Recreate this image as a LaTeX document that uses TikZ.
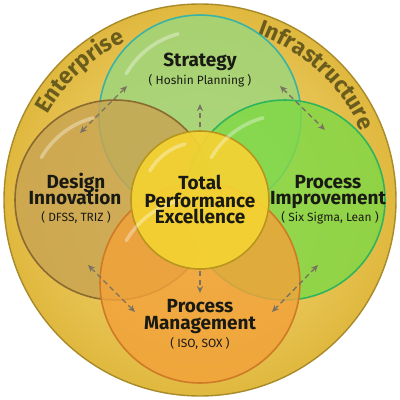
\documentclass[tikz,border=0pt]{standalone}
\usepackage{fontspec}
\setmainfont{Fira Sans}
\usetikzlibrary{decorations.text,arrows.meta}
\definecolor{ringin}{HTML}{F6E18A}
\definecolor{ringout}{HTML}{E0B83E}
\definecolor{ringedge}{HTML}{A88A2A}
\definecolor{stratfill}{HTML}{9CD67C}
\definecolor{stratedge}{HTML}{38B3A6}
\definecolor{leftfill}{HTML}{C9A452}
\definecolor{leftedge}{HTML}{8A6A30}
\definecolor{rightfill}{HTML}{80D846}
\definecolor{rightedge}{HTML}{2FB45E}
\definecolor{botfill}{HTML}{F2A23A}
\definecolor{botedge}{HTML}{CF7A25}
\definecolor{cenfill}{HTML}{F4D232}
\definecolor{cenedge}{HTML}{B8961E}
\definecolor{ringtext}{HTML}{6A5C1C}
\definecolor{arrowcol}{HTML}{7A7260}
\definecolor{labeltext}{HTML}{1A1A14}
\tikzset{
  bubble/.style={line width=0.9pt, fill opacity=0.82},
  title/.style={font=\fontsize{10.8}{10}\selectfont\bfseries, text=labeltext, anchor=base, inner sep=0pt},
  sub/.style={font=\fontsize{6.8}{7}\selectfont, text=labeltext, anchor=base, inner sep=0pt},
  link/.style={draw=arrowcol, line width=0.8pt, dash pattern=on 3pt off 2pt, {Stealth[length=4pt,width=3.5pt]}-{Stealth[length=4pt,width=3.5pt]}},
  onelink/.style={draw=arrowcol, line width=0.8pt, dash pattern=on 3pt off 2pt, -{Stealth[length=4pt,width=3.5pt]}},
  gloss/.style={draw=white, line width=2pt, draw opacity=0.35, line cap=round}
}
\begin{document}
\begin{tikzpicture}[x=0.02cm,y=0.02cm]
\useasboundingbox (0,0) rectangle (400,400);
% outer ring
\shade[inner color=ringin, outer color=ringout] (200,200) circle (196);
\draw[ringedge, line width=0.8pt] (200,200) circle (196);
% curved texts
\path[decorate, decoration={text along path, text align=center,
  text={|\fontsize{13}{12}\selectfont\bfseries\color{ringtext}|Enterprise}}]
  (200,200) ++(160:175) arc (160:106:175);
\path[decorate, decoration={text along path, text align=center,
  text={|\fontsize{13}{12}\selectfont\bfseries\color{ringtext}|Infrastructure}}]
  (200,200) ++(74:175) arc (74:20:175);
% bubbles
\filldraw[bubble, fill=stratfill, draw=stratedge] (200,284) circle (101);
\filldraw[bubble, fill=leftfill, draw=leftedge] (115,200) circle (100);
\filldraw[bubble, fill=rightfill, draw=rightedge] (285,200) circle (100);
\filldraw[bubble, fill=botfill, draw=botedge] (200,117) circle (100);
\filldraw[line width=0.9pt, fill=cenfill, draw=cenedge, fill opacity=0.93] (200,200) circle (69);
% gloss highlights
\draw[gloss] (200,284) ++(150:85) arc (150:105:85);
\draw[gloss] (115,200) ++(150:85) arc (150:105:85);
\draw[gloss] (285,200) ++(150:85) arc (150:105:85);
\draw[gloss] (200,117) ++(150:85) arc (150:105:85);
\draw[gloss] (200,200) ++(150:58) arc (150:105:58);
% labels
\node[title] (strat) at (200,334) {Strategy};
\node[sub] (hoshin) at (200,316) {( Hoshin Planning )};
\node[title] (design) at (76,212) {Design};
\node[title] (innov) at (75,195) {Innovation};
\node[sub] (dfss) at (76,178) {( DFSS, TRIZ )};
\node[title] (proc1) at (328,212) {Process};
\node[title] (improv) at (328,195) {Improvement};
\node[sub] (sixsig) at (330,178) {( Six Sigma, Lean )};
\node[title] (total) at (200,211) {Total};
\node[title] (perf) at (200,193) {Performance};
\node[title] (excel) at (200,176) {Excellence};
\node[title] (proc2) at (200,88) {Process};
\node[title] (mgmt) at (200,71) {Management};
\node[sub] (iso) at (200,52) {( ISO, SOX )};
% arrows
\coordinate (a1) at (200,273); \coordinate (a2) at (200,296);
\coordinate (b1) at (80,267);  \coordinate (b2) at (127,314);
\coordinate (c1) at (280,314); \coordinate (c2) at (325,270);
\coordinate (d1) at (200,129); \coordinate (d2) at (200,107);
\coordinate (e1) at (88,135);  \coordinate (e2) at (135,88);
\coordinate (f1) at (318,135); \coordinate (f2) at (272,88);
\draw[onelink] (a1) -- (a2);
\draw[link] (b1) -- (b2);
\draw[link] (c1) -- (c2);
\draw[onelink] (d1) -- (d2);
\draw[link] (e1) -- (e2);
\draw[link] (f1) -- (f2);
\end{tikzpicture}
\end{document}
